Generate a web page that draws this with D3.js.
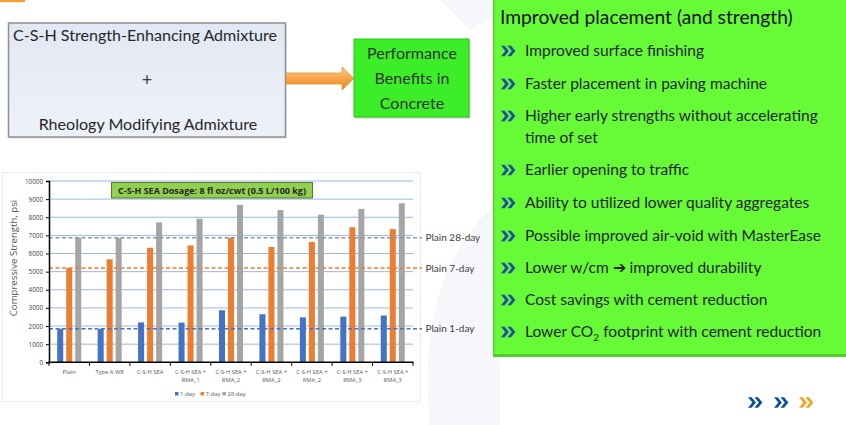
<!DOCTYPE html>
<html>
<head>
<meta charset="utf-8">
<script src="https://cdn.jsdelivr.net/npm/d3@7"></script>
<style>
  html, body { margin: 0; padding: 0; background: #ffffff; }
  svg { display: block; }
</style>
</head>
<body>
<svg id="slide" width="846" height="425"></svg>
<script>
// ---- Chart data ----
const categories = [
  "Plain", "Type A WR", "C-S-H SEA",
  "C-S-H SEA + RMA_1", "C-S-H SEA + RMA_2", "C-S-H SEA + RMA_2",
  "C-S-H SEA + RMA_2", "C-S-H SEA + RMA_3", "C-S-H SEA + RMA_3"
];
const seriesNames = ["1-day", "7-day", "28-day"];
const day1  = [1850, 1840, 2200, 2190, 2870, 2650, 2480, 2520, 2580];
const day7  = [5200, 5680, 6320, 6450, 6870, 6360, 6640, 7450, 7350];
const day28 = [6870, 6860, 7720, 7920, 8680, 8400, 8140, 8460, 8770];
const yTicks = [0, 1000, 2000, 3000, 4000, 5000, 6000, 7000, 8000, 9000, 10000];
const refLabels = ["Plain 28-day", "Plain 7-day", "Plain 1-day"];
const refValues = [day28[0], day7[0], day1[0]];
const chartTitle = "C-S-H SEA Dosage: 8 fl oz/cwt (0.5 L/100 kg)";
const yTitle = "Compressive Strength, psi";

// ---- Slide text ----
const boxTop = "C-S-H Strength-Enhancing Admixture";
const boxBottom = "Rheology Modifying Admixture";
const benefitLines = ["Performance", "Benefits in", "Concrete"];
const panelTitle = "Improved placement (and strength)";
const bullets = [
  ["Improved surface finishing"],
  ["Faster placement in paving machine"],
  ["Higher early strengths without accelerating", "time of set"],
  ["Earlier opening to traffic"],
  ["Ability to utilized lower quality aggregates"],
  ["Possible improved air-void with MasterEase"],
  ["Lower w/cm \u2794 improved durability"],
  ["Cost savings with cement reduction"],
  ["Lower CO|2| footprint with cement reduction"]
];

const colors = { "1-day": "#4472c4", "7-day": "#ed7d31", "28-day": "#a5a5a5" };
const refColors = ["#8f98a8", "#ed7d31", "#4472c4"];
const slideFont = "Lato, 'Open Sans', sans-serif";
const chartFont = "'Open Sans', 'Liberation Sans', sans-serif";

const svg = d3.select("#slide");
const defs = svg.append("defs");

// scale a text element's font so its rendered width equals w
function fitWidth(sel, w) {
  const node = sel.node();
  const cur = parseFloat(sel.attr("font-size"));
  const len = node.getComputedTextLength();
  const size = cur * w / len;
  sel.attr("font-size", size);
  return size;
}

// faint background shapes
svg.append("path")
  .attr("d", "M430,425 C420,330 440,250 500,200 L500,425 Z")
  .attr("fill", "#f6f7fa");
svg.append("path")
  .attr("d", "M440,0 L520,0 L470,30 Z")
  .attr("fill", "#f6f7fa");

// header accent fragment
svg.append("rect").attr("x", 0).attr("y", 0).attr("width", 25).attr("height", 2.2).attr("fill", "#f5a030");

// ---- Admixture box ----
const gBox = defs.append("linearGradient").attr("id", "boxFill").attr("x1", 0).attr("y1", 0).attr("x2", 0).attr("y2", 1);
gBox.append("stop").attr("offset", 0).attr("stop-color", "#e2e8f4");
gBox.append("stop").attr("offset", 1).attr("stop-color", "#eef1f8");
svg.append("rect").attr("x", 9.5).attr("y", 24.5).attr("width", 277).attr("height", 114).attr("fill", "#d9d9d9");
svg.append("rect").attr("x", 8.5).attr("y", 23).attr("width", 277).attr("height", 114)
  .attr("fill", "url(#boxFill)").attr("stroke", "#8c8f95").attr("stroke-width", 1.5);
const t1 = svg.append("text").attr("x", 13).attr("y", 41).attr("font-family", slideFont)
  .attr("font-size", 16).attr("fill", "#262626").text(boxTop);
const boxSize = fitWidth(t1, 264);
svg.append("text").attr("x", 147).attr("y", 86).attr("text-anchor", "middle").attr("font-family", slideFont)
  .attr("font-size", boxSize + 2).attr("fill", "#404040").text("+");
svg.append("text").attr("x", 148).attr("y", 130).attr("text-anchor", "middle").attr("font-family", slideFont)
  .attr("font-size", boxSize).attr("fill", "#262626").text(boxBottom);

// ---- Arrow ----
const gArrow = defs.append("linearGradient").attr("id", "arrowFill").attr("x1", 0).attr("y1", 0).attr("x2", 0).attr("y2", 1);
gArrow.append("stop").attr("offset", 0).attr("stop-color", "#fcd092");
gArrow.append("stop").attr("offset", 0.5).attr("stop-color", "#f5a54a");
gArrow.append("stop").attr("offset", 1).attr("stop-color", "#e8861c");
svg.append("path")
  .attr("d", "M286,73 L342,73 L342,67 L354,78.5 L342,90 L342,84 L286,84 Z")
  .attr("fill", "url(#arrowFill)").attr("stroke", "#e69332").attr("stroke-width", 0.8);

// ---- Benefits box ----
svg.append("rect").attr("x", 355.5).attr("y", 40.5).attr("width", 115).attr("height", 78).attr("fill", "#c8d8c0");
svg.append("rect").attr("x", 354).attr("y", 39).attr("width", 115).attr("height", 78)
  .attr("fill", "#3bee27").attr("stroke", "#30c020").attr("stroke-width", 1);
const bt = svg.append("g").attr("font-family", slideFont).attr("fill", "#333333").attr("text-anchor", "middle");
benefitLines.forEach((s, i) => {
  bt.append("text").attr("x", 412).attr("y", 59 + i * 25).attr("font-size", boxSize).text(s);
});

// ---- Right panel ----
svg.append("rect").attr("x", 493).attr("y", 3).attr("width", 353).attr("height", 354).attr("fill", "#4fcf2d");
svg.append("rect").attr("x", 493).attr("y", 0).attr("width", 353).attr("height", 354).attr("fill", "#66fa37");
svg.append("rect").attr("x", 493).attr("y", 0).attr("width", 1.5).attr("height", 354).attr("fill", "#52d62e");
const pt = svg.append("text").attr("x", 500).attr("y", 24).attr("font-family", slideFont)
  .attr("font-size", 20).attr("fill", "#111111").text(panelTitle);
fitWidth(pt, 293);

const bulletY = [[51], [84], [116, 138], [170], [203], [236], [268], [300], [332]];
const bulletG = svg.append("g").attr("font-family", slideFont).attr("fill", "#262626");
// size from the longest first line
const probe = bulletG.append("text").attr("font-size", 16).text(bullets[2][0]);
const refSize = fitWidth(probe, 293);
probe.remove();

function chevron(g, x, y, color, s) {
  // bold double chevron ">>" centred vertically on y
  const h = 4.4 * s, w = 3.6 * s, t = 3.0 * s;
  [0, 5.4 * s].forEach(dx => {
    const x0 = x + dx;
    g.append("path")
      .attr("d", `M${x0},${y - h} L${x0 + t},${y - h} L${x0 + t + w},${y} L${x0 + t},${y + h} L${x0},${y + h} L${x0 + w},${y} Z`)
      .attr("fill", color);
  });
}

bullets.forEach((lines, i) => {
  chevron(bulletG, 501, bulletY[i][0], "#1f4e9e", 1.2);
  lines.forEach((line, j) => {
    const txt = bulletG.append("text").attr("x", 525).attr("y", bulletY[i][j])
      .attr("dy", "0.35em").attr("font-size", refSize);
    const parts = line.split("|");
    parts.forEach((p, k) => {
      const span = txt.append("tspan").text(p);
      if (k === 1) span.attr("font-size", refSize * 0.65).attr("dy", "0.35em");
      if (k === 2) span.attr("dy", "-0.25em");
    });
  });
});

// footer chevrons
const foot = svg.append("g");
chevron(foot, 748, 402.5, "#0b4ea2", 1.2);
chevron(foot, 774, 402.5, "#0b4ea2", 1.2);
chevron(foot, 799, 402.5, "#f7a21b", 1.2);

// ---- Bar chart ----
svg.append("rect").attr("x", 2.5).attr("y", 172.5).attr("width", 418).attr("height", 229)
  .attr("fill", "#ffffff").attr("stroke", "#ececec").attr("stroke-width", 1);

// categories repeat, so the band scale is keyed by position
const idx = d3.range(categories.length);
const x = d3.scaleBand().domain(idx).range([49, 413]);
const xSub = d3.scaleBand().domain(seriesNames).range([8.2, x.bandwidth() - 8.2]).paddingInner(0.33);
const y = d3.scaleLinear().domain([0, 10000]).range([362.3, 181]);

const chart = svg.append("g").attr("font-family", chartFont);

// horizontal gridlines
chart.append("g").selectAll("line").data(yTicks.filter(v => v > 0)).join("line")
  .attr("x1", 49).attr("x2", 413).attr("y1", d => y(d)).attr("y2", d => y(d))
  .attr("stroke", "#9fb6e2").attr("stroke-width", 1);

// bars
const rows = idx.map(i => ({ i, cat: categories[i], vals: [day1[i], day7[i], day28[i]] }));
const groups = chart.append("g").selectAll("g").data(rows).join("g")
  .attr("transform", d => `translate(${x(d.i)},0)`);
groups.selectAll("rect").data(d => seriesNames.map((s, k) => ({ s, v: d.vals[k] }))).join("rect")
  .attr("x", e => xSub(e.s))
  .attr("width", xSub.bandwidth())
  .attr("y", e => y(e.v))
  .attr("height", e => y(0) - y(e.v))
  .attr("fill", e => colors[e.s]);

// reference lines for the plain mix
refValues.forEach((v, i) => {
  chart.append("line").attr("x1", 49).attr("x2", 422).attr("y1", y(v)).attr("y2", y(v))
    .attr("stroke", refColors[i]).attr("stroke-width", 1.6).attr("stroke-dasharray", "4,2.5");
  svg.append("text").attr("x", 425.5).attr("y", y(v)).attr("dy", "0.35em")
    .attr("font-family", slideFont).attr("font-size", 10).attr("fill", "#404040").text(refLabels[i]);
});

// axes
const yAxis = chart.append("g").attr("transform", "translate(49,0)")
  .call(d3.axisLeft(y).tickValues(yTicks).tickSize(3).tickFormat(d3.format("d")));
yAxis.select(".domain").attr("stroke", "#000").attr("stroke-width", 1.5);
yAxis.selectAll(".tick line").attr("stroke", "#000");
yAxis.selectAll(".tick text").attr("font-size", 6.3).attr("fill", "#404040").attr("font-family", chartFont).attr("x", -6);

chart.append("line").attr("x1", 48).attr("x2", 413.5).attr("y1", y(0)).attr("y2", y(0))
  .attr("stroke", "#000").attr("stroke-width", 1.5);
chart.append("g").selectAll("line").data(d3.range(categories.length + 1)).join("line")
  .attr("x1", d => 49 + d * x.step()).attr("x2", d => 49 + d * x.step())
  .attr("y1", y(0)).attr("y2", y(0) + 3.5).attr("stroke", "#000").attr("stroke-width", 1);

// category labels
rows.forEach(d => {
  const cx = x(d.i) + x.bandwidth() / 2;
  const parts = d.cat.split(" + ");
  const lines = parts.length > 1 ? [parts[0] + " +", parts[1]] : [parts[0]];
  lines.forEach((ln, j) => {
    chart.append("text").attr("x", cx).attr("y", 372 + j * 7.7).attr("dy", "0.35em")
      .attr("text-anchor", "middle").attr("font-size", 5.8).attr("fill", "#595959").text(ln);
  });
});

// y title
chart.append("text").attr("transform", "translate(14,258) rotate(-90)").attr("text-anchor", "middle")
  .attr("dy", "0.35em").attr("font-size", 9.6).attr("fill", "#595959").text(yTitle);

// chart title box
chart.append("rect").attr("x", 111.5).attr("y", 182.5).attr("width", 201).attr("height", 15.5)
  .attr("fill", "#92d050").attr("stroke", "#4e7a2a").attr("stroke-width", 1);
const ct = chart.append("text").attr("x", 212).attr("y", 190.5).attr("dy", "0.35em").attr("text-anchor", "middle")
  .attr("font-size", 8.5).attr("font-weight", "bold").attr("fill", "#262626").text(chartTitle);
fitWidth(ct, 188);

// legend
const legendX = [175, 200.5, 222.5];
seriesNames.forEach((s, i) => {
  chart.append("rect").attr("x", legendX[i]).attr("y", 392).attr("width", 3.5).attr("height", 3.5).attr("fill", colors[s]);
  chart.append("text").attr("x", legendX[i] + 5).attr("y", 394).attr("dy", "0.35em")
    .attr("font-size", 5.8).attr("fill", "#595959").text(s);
});
</script>
</body>
</html>
